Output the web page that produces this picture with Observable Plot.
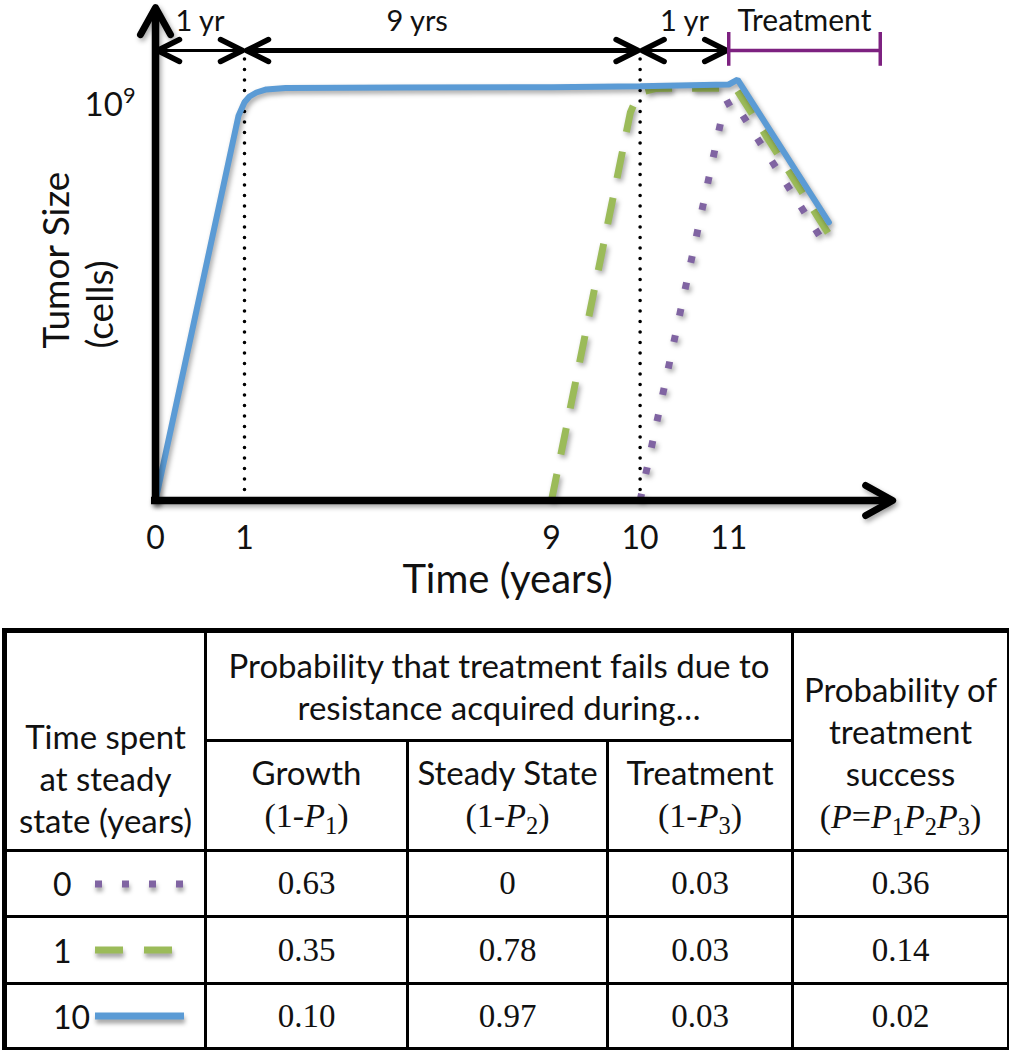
<!DOCTYPE html>
<html>
<head>
<meta charset="utf-8">
<script src="https://cdn.jsdelivr.net/npm/d3@7"></script>
<script src="https://cdn.jsdelivr.net/npm/@observablehq/plot@0.6"></script>
<style>
  html, body { margin: 0; padding: 0; background: #fff; }
  body { width: 1009px; height: 1050px; position: relative; overflow: hidden; font-family: Lato, sans-serif; color: #111; }
  #chart { position: absolute; left: 0; top: 0; }
  #tbl { position: absolute; left: 2px; top: 628px; width: 1005px; border-collapse: collapse; table-layout: fixed; border: 5px solid #000; }
  #tbl td { border: 3px solid #000; text-align: center; padding: 0; white-space: nowrap; }
  .sans { font-family: Lato, sans-serif; font-size: 33px; line-height: 42px; }
  .serif { font-family: "Liberation Serif", "Times New Roman", serif; font-size: 34px; }
  .serif sub { font-size: 0.72em; vertical-align: baseline; position: relative; top: 0.28em; }
  .num { font-family: "Liberation Serif", "Times New Roman", serif; font-size: 33px; }
  .leg { display: flex; align-items: center; padding-left: 46px; font-family: Lato, sans-serif; font-size: 32px; }
  .leg span { width: 42px; text-align: left; }
  .leg svg { filter: drop-shadow(1px 4px 2px rgba(0,0,0,0.35)); overflow: visible; }
</style>
</head>
<body>
<div id="chart"></div>
<table id="tbl"></table>
<script>
// ---------- data ----------
// tumour size in log10(cells) over time (years)
const tenYrT    = [0, 0.933, 1.0, 1.13, 1.31, 1.57, 2.07, 5.07, 9, 10, 11, 11.1, 12.13];
const tenYrSize = [0, 8.66, 8.96, 9.09, 9.18, 9.25, 9.28, 9.29, 9.30, 9.32, 9.36, 9.47, 6.26];
const oneYrT    = [9, 9.89, 9.96, 10.04, 10.17, 10.68, 11.08, 12.13];
const oneYrSize = [0, 8.73, 9.05, 9.2, 9.27, 9.28, 9.27, 5.99];
const zeroYrT    = [10, 10.95, 11.05, 12.1];
const zeroYrSize = [0, 8.89, 9.0, 5.72];

const xTicks = [0, 1, 9, 10, 11];
const yTicks = [9];
const dividerYears = [1, 10];

const spanStart = [0, 1, 10];
const spanEnd   = [1, 10, 11];
const spanLabel = ["1 yr", "9 yrs", "1 yr"];
const treatStart = 11, treatEnd = 12.71, treatLabel = "Treatment";
const annotationLevel = 10.125;   // height of the period arrows (log10 units)
const labelLevel = 10.78;
const xAxisEnd = 12.85, yAxisEnd = 11.09;

// table
const steadyYears = ["0", "1", "10"];
const failGrowth  = ["0.63", "0.35", "0.10"];
const failSteady  = ["0", "0.78", "0.97"];
const failTreat   = ["0.03", "0.03", "0.03"];
const success     = ["0.36", "0.14", "0.02"];

// ---------- styles ----------
const BLUE = "#5B9BD5", GREEN = "#9BBB59", PURPLE = "#8064A2", TREAT = "#7D2180";

function chevron(len, half) {
  return { draw(ctx) { ctx.moveTo(-half, len); ctx.lineTo(0, 0); ctx.lineTo(half, len); } };
}

const spans = spanStart.map((s, i) => ({start: s, end: spanEnd[i], label: spanLabel[i], idx: i}));
const treat = [{start: treatStart, end: treatEnd, label: treatLabel}];

const svg = Plot.plot({
  width: 1009,
  height: 626,
  marginLeft: 155, marginRight: 112, marginTop: 0, marginBottom: 126,
  style: {fontFamily: "Lato, sans-serif", color: "#111", background: "transparent", overflow: "visible"},
  x: {type: "linear", domain: [0, 1, 9, 12.9], range: [155, 244, 551, 896.6]},
  y: {type: "linear", domain: [0, 11.25], range: [500, 0]},
  marks: [
    // dotted year dividers
    Plot.ruleX(dividerYears, {x: d => d, y1: 0, y2: 9.95, stroke: "#000", strokeWidth: 3.6, strokeDasharray: "0,10.5", strokeLinecap: "round"}),
    // curves
    Plot.line(zeroYrT, {x: zeroYrT, y: zeroYrSize, stroke: PURPLE, strokeWidth: 7, strokeDasharray: "7,20", strokeLinecap: "butt", ariaDescription: "shadow"}),
    Plot.line(oneYrT, {x: oneYrT, y: oneYrSize, stroke: GREEN, strokeWidth: 7, strokeDasharray: "27,20", strokeLinecap: "butt", ariaDescription: "shadow"}),
    Plot.line(tenYrT, {x: tenYrT, y: tenYrSize, stroke: BLUE, strokeWidth: 6, strokeLinejoin: "miter", ariaDescription: "shadow"}),
    // axis lines with arrow heads
    Plot.ruleY([0], {y: d => d, x1: -0.045, x2: xAxisEnd - 0.04, stroke: "#000", strokeWidth: 7.5, ariaDescription: "shadow"}),
    Plot.ruleX([0], {x: d => d, y1: -0.085, y2: yAxisEnd - 0.08, stroke: "#000", strokeWidth: 7.5, ariaDescription: "shadow"}),
    Plot.vector([xAxisEnd], {x: d => d, y: 0, rotate: 90, anchor: "start", length: 27, shape: chevron(27, 15), stroke: "#000", strokeWidth: 7, ariaDescription: "shadow"}),
    Plot.vector([yAxisEnd], {x: 0, y: d => d, rotate: 0, anchor: "start", length: 27, shape: chevron(27, 15), stroke: "#000", strokeWidth: 7, ariaDescription: "shadow"}),
    // period arrows
    Plot.ruleY(spans, {y: annotationLevel, x1: "start", x2: "end", stroke: "#000", strokeWidth: d => d.idx === 1 ? 5 : 3, insetLeft: 4, insetRight: 4}),
    Plot.vector(spans, {x: "start", y: annotationLevel, dx: 2, rotate: -90, anchor: "start", length: 22, shape: chevron(22, 11), stroke: "#000", strokeWidth: 5.5}),
    Plot.vector(spans, {x: "end", y: annotationLevel, dx: -2, rotate: 90, anchor: "start", length: 22, shape: chevron(22, 11), stroke: "#000", strokeWidth: 5.5}),
    Plot.text(spans, {x: d => (d.start + d.end) / 2, y: labelLevel, text: "label", fontSize: 29, fill: "#111", lineAnchor: "middle"}),
    // treatment bar
    Plot.ruleY(treat, {y: annotationLevel, x1: "start", x2: "end", stroke: TREAT, strokeWidth: 3.5}),
    Plot.ruleX([treatStart, treatEnd], {x: d => d, y1: 9.77, y2: 10.53, stroke: TREAT, strokeWidth: 3.5}),
    Plot.text(treat, {x: d => (d.start + d.end) / 2, y: labelLevel, text: "label", fontSize: 30, fill: "#111", lineAnchor: "middle"}),
    // axes
    Plot.axisX({ticks: xTicks, tickSize: 0, tickPadding: 26, fontSize: 32, tickFormat: d => String(d), label: null}),
    Plot.axisY({ticks: yTicks, tickSize: 0, tickPadding: 20, fontSize: 33, tickFormat: () => "10", label: null, dy: 5}),
    Plot.text(["Time (years)"], {frameAnchor: "bottom", dx: -19, dy: 80, fontSize: 40, lineAnchor: "middle", fill: "#111"}),
    Plot.text(["Tumor Size\n(cells)"], {frameAnchor: "left", rotate: -90, dx: -79, dy: 98, fontSize: 37, lineHeight: 1.2, lineAnchor: "middle", fill: "#111"})
  ]
});

// superscript exponent on the y tick label
d3.select(svg).selectAll('g[aria-label="y-axis tick label"] text').each(function() {
  const t = d3.select(this);
  const base = t.text();
  t.text(null);
  t.append("tspan").text(base);
  t.append("tspan").attr("dy", "-0.62em").attr("font-size", "0.66em").text(yTicks.map(String)[0]);
});
d3.select(svg).selectAll('g[aria-description="shadow"]').style("filter", "drop-shadow(2px 3px 2.5px rgba(0,0,0,0.35))");

document.getElementById("chart").appendChild(svg);

// ---------- table ----------
const tbl = document.getElementById("tbl");
const P = n => `<i>P</i><sub>${n}</sub>`;
tbl.innerHTML = `
<colgroup><col style="width:201px"><col style="width:202px"><col style="width:200px"><col style="width:185px"><col style="width:217px"></colgroup>
<tr style="height:110px">
  <td rowspan="2" class="sans" style="vertical-align:bottom;padding-bottom:8px">Time spent<br>at steady<br>state (years)</td>
  <td colspan="3" class="sans">Probability that treatment fails due to<br>resistance acquired during…</td>
  <td rowspan="2" class="sans" style="vertical-align:bottom;padding-bottom:8px">Probability of<br>treatment<br>success<br><span class="serif">(<i>P</i>=${P(1)}${P(2)}${P(3)})</span></td>
</tr>
<tr style="height:110px">
  <td class="sans">Growth<br><span class="serif">(1-${P(1)})</span></td>
  <td class="sans">Steady State<br><span class="serif">(1-${P(2)})</span></td>
  <td class="sans">Treatment<br><span class="serif">(1-${P(3)})</span></td>
</tr>`;

const legendSvgs = [
  `<svg width="92" height="14"><line x1="0" x2="88" y1="7" y2="7" stroke="${PURPLE}" stroke-width="7" stroke-dasharray="7,20"/></svg>`,
  `<svg width="92" height="14"><line x1="0" x2="77" y1="7" y2="7" stroke="${GREEN}" stroke-width="7" stroke-dasharray="28,21"/></svg>`,
  `<svg width="92" height="14"><line x1="0" x2="89" y1="7" y2="7" stroke="${BLUE}" stroke-width="7"/></svg>`
];
const rowHeights = [66, 67, 66];
steadyYears.forEach((yr, i) => {
  const tr = document.createElement("tr");
  tr.style.height = rowHeights[i] + "px";
  tr.innerHTML = `
    <td class="num"><div class="leg"><span>${yr}</span>${legendSvgs[i]}</div></td>
    <td class="num">${failGrowth[i]}</td>
    <td class="num">${failSteady[i]}</td>
    <td class="num">${failTreat[i]}</td>
    <td class="num">${success[i]}</td>`;
  tbl.appendChild(tr);
});
</script>
</body>
</html>
